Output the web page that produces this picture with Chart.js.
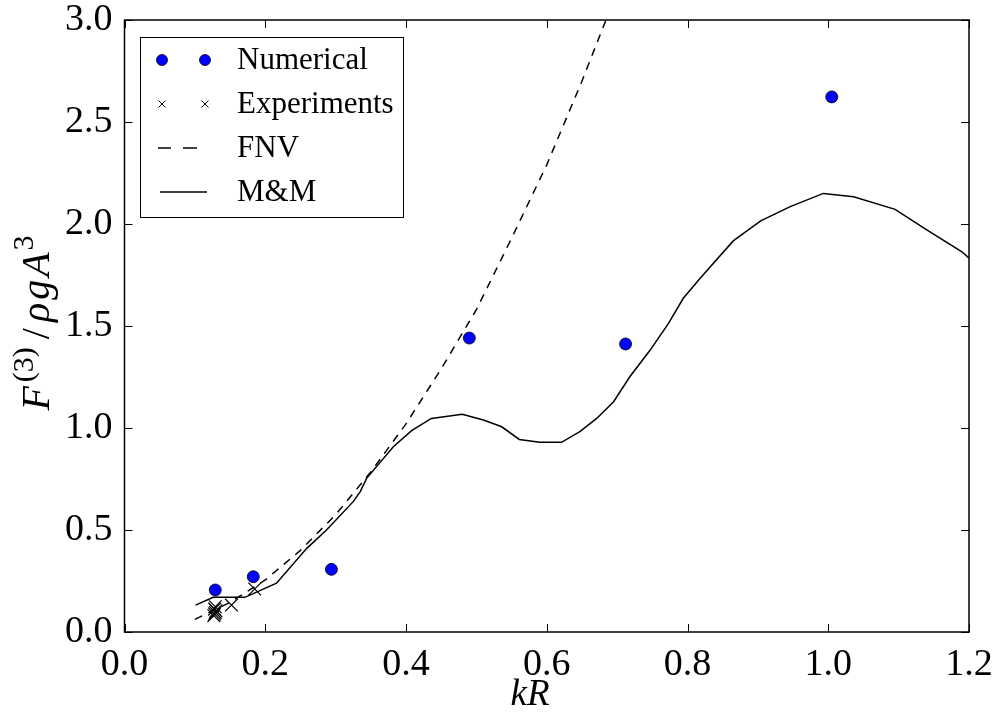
<!DOCTYPE html>
<html>
<head>
<meta charset="utf-8">
<script src="https://cdn.jsdelivr.net/npm/chart.js@4.4.1/dist/chart.umd.min.js"></script>
<style>
  body { margin: 0; background: #fff; }
  canvas { display: block; }
</style>
</head>
<body>
<canvas id="myChart" width="995" height="712"></canvas>
<script>
// numerical results (blue dots)
var numX = [0.129, 0.183, 0.294, 0.490, 0.712, 1.005];
var numY = [0.206, 0.271, 0.307, 1.441, 1.412, 2.623];

// experiments (crosses)
var expX = [0.127, 0.128, 0.129, 0.130, 0.128, 0.129, 0.152, 0.185];
var expY = [0.080, 0.088, 0.096, 0.104, 0.112, 0.124, 0.132, 0.211];

// FNV theory (dashed)
var fnvX = [0.10, 0.15, 0.20, 0.25, 0.30, 0.35, 0.40, 0.45, 0.50, 0.55, 0.60, 0.65, 0.70];
var fnvY = [0.062, 0.145, 0.255, 0.40, 0.575, 0.785, 1.02, 1.29, 1.58, 1.93, 2.29, 2.70, 3.14];

// M&M theory (solid)
var mmX = [0.101, 0.126, 0.171, 0.216, 0.259, 0.287, 0.325, 0.335, 0.344, 0.382, 0.408, 0.436, 0.480,
           0.510, 0.536, 0.561, 0.590, 0.621, 0.647, 0.671, 0.695, 0.718, 0.747, 0.773, 0.794, 0.818,
           0.865, 0.904, 0.946, 0.993, 1.036, 1.095, 1.140, 1.190, 1.200];
var mmY = [0.132, 0.170, 0.170, 0.239, 0.410, 0.500, 0.639, 0.688, 0.753, 0.908, 0.987, 1.047, 1.067,
           1.039, 1.006, 0.944, 0.930, 0.930, 0.982, 1.047, 1.129, 1.251, 1.382, 1.513, 1.636, 1.734,
           1.917, 2.015, 2.085, 2.150, 2.134, 2.072, 1.971, 1.864, 1.833];

var xTicks = [0, 0.2, 0.4, 0.6, 0.8, 1.0, 1.2];
var yTicks = [0, 0.5, 1.0, 1.5, 2.0, 2.5, 3.0];

var SERIF = "'Liberation Serif', 'DejaVu Serif', serif";

function pts(xs, ys) {
  return xs.map(function (x, i) { return { x: x, y: ys[i] }; });
}

function noPad(s) {
  s.paddingLeft = 0; s.paddingRight = 0; s.paddingTop = 0; s.paddingBottom = 0;
}

// frame, inward ticks, legend and axis labels (matplotlib classic look)
var decor = {
  id: 'decor',
  afterDraw: function (chart) {
    var ctx = chart.ctx, a = chart.chartArea;
    var sx = chart.scales.x, sy = chart.scales.y;
    ctx.save();
    ctx.strokeStyle = '#000';
    ctx.lineWidth = 1.5;
    ctx.strokeRect(a.left, a.top, a.right - a.left, a.bottom - a.top);

    ctx.lineWidth = 1;
    ctx.beginPath();
    xTicks.forEach(function (v) {
      var p = Math.round(sx.getPixelForValue(v)) + 0.5;
      ctx.moveTo(p, a.bottom); ctx.lineTo(p, a.bottom - 8);
      ctx.moveTo(p, a.top); ctx.lineTo(p, a.top + 8);
    });
    yTicks.forEach(function (v) {
      var p = Math.round(sy.getPixelForValue(v)) + 0.5;
      ctx.moveTo(a.left, p); ctx.lineTo(a.left + 8, p);
      ctx.moveTo(a.right, p); ctx.lineTo(a.right - 8, p);
    });
    ctx.stroke();

    // legend
    var lx = 140, ly = 37, lw = 263, lh = 180;
    ctx.fillStyle = '#fff';
    ctx.fillRect(lx, ly, lw, lh);
    ctx.strokeStyle = '#000';
    ctx.lineWidth = 1;
    ctx.strokeRect(lx + 0.5, ly + 0.5, lw, lh);

    var m1 = 162, m2 = 205, tx = 237;
    var rows = [60, 104, 148, 192];
    // Numerical
    [m1, m2].forEach(function (mx) {
      ctx.beginPath();
      ctx.arc(mx, rows[0], 5.5, 0, Math.PI * 2);
      ctx.fillStyle = '#0000ff';
      ctx.fill();
      ctx.lineWidth = 0.8;
      ctx.strokeStyle = '#000';
      ctx.stroke();
    });
    // Experiments
    ctx.lineWidth = 1;
    ctx.beginPath();
    [m1, m2].forEach(function (mx) {
      ctx.moveTo(mx - 3.5, rows[1] - 3.5); ctx.lineTo(mx + 3.5, rows[1] + 3.5);
      ctx.moveTo(mx - 3.5, rows[1] + 3.5); ctx.lineTo(mx + 3.5, rows[1] - 3.5);
    });
    ctx.stroke();
    // FNV
    ctx.lineWidth = 1.4;
    ctx.beginPath();
    ctx.moveTo(158, rows[2]); ctx.lineTo(171, rows[2]);
    ctx.moveTo(183, rows[2]); ctx.lineTo(197, rows[2]);
    ctx.stroke();
    // M&M
    ctx.beginPath();
    ctx.moveTo(160, rows[3]); ctx.lineTo(207, rows[3]);
    ctx.stroke();

    ctx.fillStyle = '#000';
    ctx.font = '31px ' + SERIF;
    ctx.textBaseline = 'middle';
    ctx.textAlign = 'left';
    ['Numerical', 'Experiments', 'FNV', 'M&M'].forEach(function (t, i) {
      ctx.fillText(t, tx, rows[i] + 1);
    });

    // x label
    ctx.font = 'italic 37px ' + SERIF;
    ctx.textAlign = 'center';
    ctx.textBaseline = 'alphabetic';
    ctx.fillText('kR', 530, 705);

    // y label, rotated, with superscripts
    var parts = [
      { t: 'F', f: 'italic 40px ' + SERIF, dy: 0, gap: 4 },
      { t: '(3)', f: '30px ' + SERIF, dy: -16, gap: 8 },
      { t: '/', f: '40px ' + SERIF, dy: 0, gap: 6 },
      { t: '\u03C1', f: 'italic 40px ' + SERIF, dy: 0, gap: 3 },
      { t: 'g', f: 'italic 40px ' + SERIF, dy: 0, gap: 3 },
      { t: 'A', f: 'italic 40px ' + SERIF, dy: 0, gap: 2 },
      { t: '3', f: '30px ' + SERIF, dy: -16, gap: 0 }
    ];
    var total = 0;
    parts.forEach(function (p) { ctx.font = p.f; p.w = ctx.measureText(p.t).width; total += p.w + p.gap; });
    ctx.translate(49, 323);
    ctx.rotate(-Math.PI / 2);
    ctx.textAlign = 'left';
    var cx = -total / 2;
    parts.forEach(function (p) {
      ctx.font = p.f;
      ctx.fillText(p.t, cx, p.dy);
      cx += p.w + p.gap;
    });
    ctx.restore();
  }
};

var ctx = document.getElementById('myChart').getContext('2d');
var myChart = new Chart(ctx, {
  type: 'scatter',
  data: {
    datasets: [{
      label: 'M&M',
      type: 'line',
      data: pts(mmX, mmY),
      borderColor: '#000',
      borderWidth: 1.5,
      pointRadius: 0,
      fill: false,
      tension: 0,
      order: 0
    }, {
      label: 'FNV',
      type: 'line',
      data: pts(fnvX, fnvY),
      borderColor: '#000',
      borderWidth: 1.5,
      borderDash: [8, 7],
      pointRadius: 0,
      fill: false,
      tension: 0,
      order: 1
    }, {
      label: 'Experiments',
      data: pts(expX, expY),
      pointStyle: 'crossRot',
      pointRadius: 9,
      borderColor: '#000',
      borderWidth: 1.2,
      order: 2
    }, {
      label: 'Numerical',
      data: pts(numX, numY),
      pointStyle: 'circle',
      pointRadius: 6,
      backgroundColor: '#0000ff',
      borderColor: '#000',
      borderWidth: 0.8,
      order: 3
    }]
  },
  options: {
    responsive: false,
    animation: false,
    devicePixelRatio: 1,
    layout: { padding: { left: 0, top: 20, right: 26, bottom: 0 } },
    plugins: {
      legend: { display: false },
      tooltip: { enabled: false }
    },
    scales: {
      x: {
        type: 'linear',
        min: 0,
        max: 1.2,
        afterFit: function (s) { s.height = 80; noPad(s); },
        afterBuildTicks: function (s) { s.ticks = xTicks.map(function (v) { return { value: v }; }); },
        grid: { display: false, drawTicks: false },
        border: { display: false },
        ticks: {
          padding: 10,
          maxRotation: 0,
          autoSkip: false,
          color: '#000',
          font: { family: SERIF, size: 38 },
          callback: function (v) { return Number(v).toFixed(1); }
        }
      },
      y: {
        type: 'linear',
        min: 0,
        max: 3,
        afterFit: function (s) { s.width = 124.5; noPad(s); },
        afterBuildTicks: function (s) { s.ticks = yTicks.map(function (v) { return { value: v }; }); },
        grid: { display: false, drawTicks: false },
        border: { display: false },
        ticks: {
          padding: 12,
          autoSkip: false,
          color: '#000',
          font: { family: SERIF, size: 38 },
          callback: function (v) { return Number(v).toFixed(1); }
        }
      }
    }
  },
  plugins: [decor]
});
</script>
</body>
</html>
